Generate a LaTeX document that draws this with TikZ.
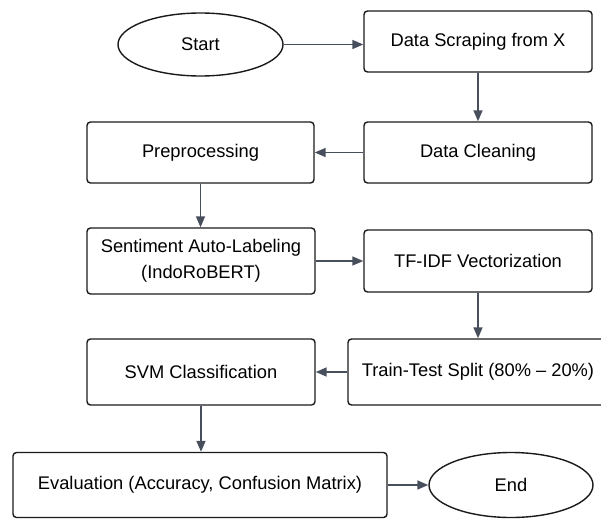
\documentclass[tikz,border=0pt]{standalone}
\usepackage{fontspec}
\setmainfont{Liberation Sans}
\usetikzlibrary{arrows.meta,shapes.geometric}
\definecolor{arrowgray}{HTML}{474F5C}
\definecolor{edgeblack}{HTML}{1A1A1A}
\begin{document}
\begin{tikzpicture}[x=1pt,y=-1pt,
  every node/.style={font=\fontsize{18.3}{22}\selectfont, align=center, inner sep=0pt},
  box/.style={draw=edgeblack, line width=1.4pt, rounded corners=3.5pt},
  oval/.style={draw=edgeblack, line width=1.4pt, ellipse},
  flow/.style={draw=arrowgray, line width=1.6pt, -{Triangle[length=11pt,width=9pt]}}]
\clip (0,0) rectangle (601,519);
\node[oval, minimum width=165pt, minimum height=63pt] (start) at (200.5,44.5) {Start};
\node[box, minimum width=228pt, minimum height=61pt] (scrape) at (478,41.5) {Data Scraping from X};
\node[box, minimum width=228pt, minimum height=61pt] (clean) at (478,152.5) {Data Cleaning};
\node[box, minimum width=227pt, minimum height=61pt] (prep) at (200.5,152.5) {Preprocessing};
\node[box, minimum width=228pt, minimum height=66pt] (sent) at (201,261) {Sentiment Auto-Labeling\\[4pt](IndoRoBERT)};
\node[box, minimum width=228pt, minimum height=62pt] (tfidf) at (478,261) {TF-IDF Vectorization};
\node[box, minimum width=260pt, minimum height=66pt] (split) at (478,372) {Train-Test Split (80\% – 20\%)};
\node[box, minimum width=228pt, minimum height=66pt] (svm) at (201,372) {SVM Classification};
\node[box, minimum width=374pt, minimum height=65pt] (eval) at (200,485) {Evaluation (Accuracy, Confusion Matrix)};
\node[oval, minimum width=164pt, minimum height=65pt] (end) at (511,485) {End};
\draw[flow] (start.east) -- (start.east -| scrape.west);
\draw[flow] (scrape) -- (clean);
\draw[flow] (clean) -- (prep);
\draw[flow] (prep.south) -- (prep.south |- sent.north);
\draw[flow] (sent) -- (tfidf);
\draw[flow] (tfidf) -- (split);
\draw[flow] (split) -- (svm);
\draw[flow] (svm.south) -- (svm.south |- eval.north);
\draw[flow] (eval) -- (end);
\end{tikzpicture}
\end{document}
